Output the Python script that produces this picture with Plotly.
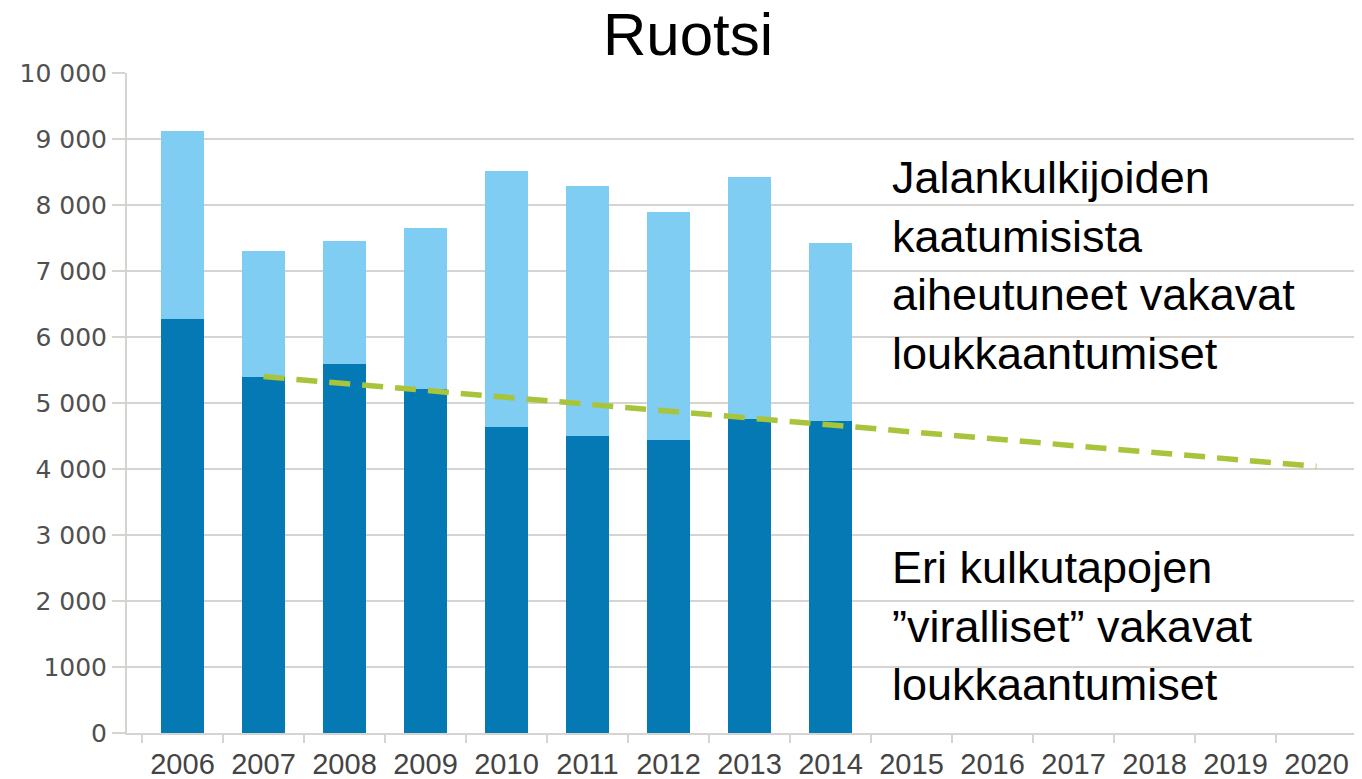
import plotly.graph_objects as go

years = ["2006", "2007", "2008", "2009", "2010", "2011", "2012", "2013", "2014",
         "2015", "2016", "2017", "2018", "2019", "2020"]
bar_years = years[:9]
official = [6270, 5390, 5590, 5210, 4640, 4500, 4440, 4760, 4730]
total = [9115, 7300, 7455, 7645, 8515, 8285, 7895, 8430, 7420]
falls = [t - o for t, o in zip(total, official)]
trend_years = ["2007", "2020"]
trend_values = [5400, 4040]

y_ticks = [0, 1000, 2000, 3000, 4000, 5000, 6000, 7000, 8000, 9000, 10000]
y_ticktext = ["0", "1000", "2 000", "3 000", "4 000", "5 000", "6 000",
              "7 000", "8 000", "9 000", "10 000"]

DARK = "#0479b4"
LIGHT = "#7fcdf2"
GRID = "#d7d3ce"

W, H = 1354, 771  # page has an 8px body margin

fig = go.Figure()
fig.add_trace(go.Bar(x=bar_years, y=official, marker=dict(color=DARK, line=dict(width=0)),
                     width=0.54, showlegend=False))
fig.add_trace(go.Bar(x=bar_years, y=falls, marker=dict(color=LIGHT, line=dict(width=0)),
                     width=0.54, showlegend=False))
fig.add_trace(go.Scatter(x=trend_years, y=trend_values, mode="lines",
                         line=dict(color="#a8c43a", width=5.5, dash="21px,12px"),
                         showlegend=False))

fig.update_layout(
    barmode="stack",
    width=W, height=H,
    margin=dict(l=119, r=5, t=65, b=46, autoexpand=False),
    paper_bgcolor="white", plot_bgcolor="white",
    title=dict(text="Ruotsi", x=680 / W, xanchor="center", xref="container",
               yref="container", y=1 - 26 / H, yanchor="middle",
               font=dict(family="Liberation Sans, Arial", size=60, color="black")),
    xaxis=dict(type="category", categoryorder="array", categoryarray=years,
               range=[-0.685, 14.5], tickson="boundaries", ticks="outside",
               ticklen=8, tickwidth=2, tickcolor=GRID, showline=True, linecolor=GRID,
               linewidth=2, showgrid=False, zeroline=False, ticklabelstandoff=4,
               tickfont=dict(family="Liberation Sans, Arial", size=29, color="#444444")),
    yaxis=dict(range=[0, 10000], tickvals=y_ticks, ticktext=y_ticktext,
               ticks="outside", ticklen=13, tickwidth=2, tickcolor=GRID,
               showline=True, linecolor=GRID, linewidth=2, mirror=True,
               showgrid=True, gridcolor=GRID, gridwidth=2, zeroline=False,
               tickfont=dict(family="DejaVu Sans", size=25, color="#505050")),
    font=dict(family="Liberation Sans, Arial"),
)

fig.add_annotation(text="Jalankulkijoiden<br>kaatumisista<br>aiheutuneet vakavat<br>loukkaantumiset",
                   xref="paper", yref="paper", x=(890 - 127) / 1230, y=0.709,
                   xanchor="left", yanchor="middle", align="left", showarrow=False,
                   font=dict(family="Liberation Sans, Arial", size=45, color="black"))
fig.add_annotation(text="Eri kulkutapojen<br>”viralliset” vakavat<br>loukkaantumiset",
                   xref="paper", yref="paper", x=(890 - 127) / 1230, y=0.1626,
                   xanchor="left", yanchor="middle", align="left", showarrow=False,
                   font=dict(family="Liberation Sans, Arial", size=45, color="black"))

fig.write_html("out.html")
